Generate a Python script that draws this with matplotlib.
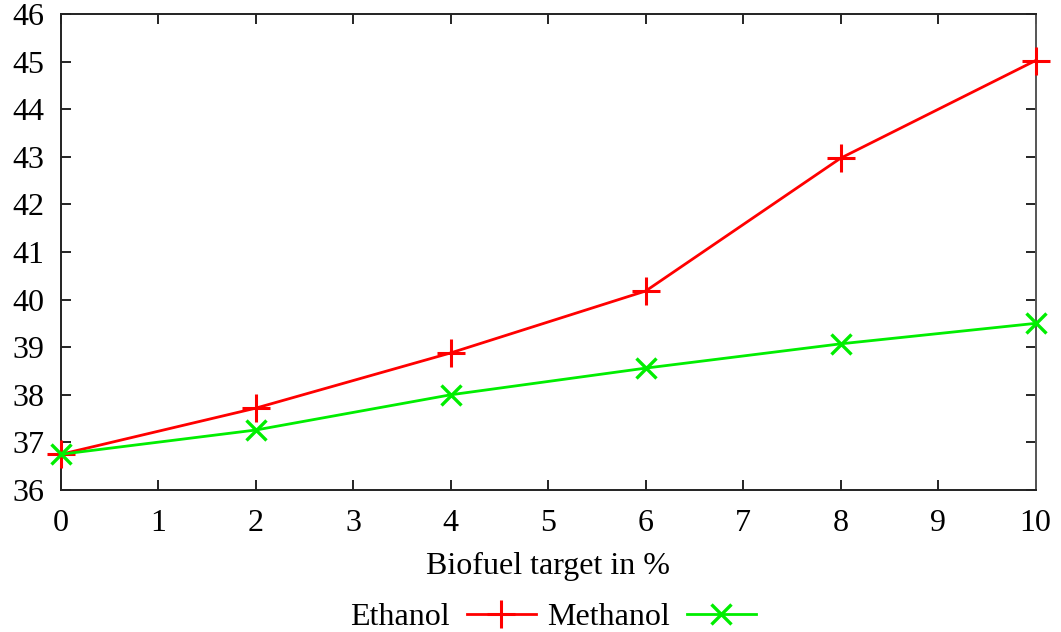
import matplotlib
matplotlib.use("Agg")
import matplotlib.pyplot as plt

plt.rcParams['font.family'] = ['Liberation Serif', 'DejaVu Serif']

targets = [0, 2, 4, 6, 8, 10]
ethanol = [36.75, 37.72, 38.88, 40.18, 42.97, 45.02]
methanol = [36.75, 37.26, 38.00, 38.56, 39.07, 39.50]
xticks = list(range(0, 11))
yticks = list(range(36, 47))

fig = plt.figure(figsize=(10.61, 6.32), dpi=100)
ax = fig.add_axes([0.0575, 0.2247, 0.9185, 0.7533])

ax.plot(targets, ethanol, color='#ff0000', lw=2, marker='+', ms=20, mew=2.2,
        label='Ethanol', clip_on=False, zorder=3)
ax.plot(targets, methanol, color='#00ee00', lw=2, marker='x', ms=15, mew=2.4,
        label='Methanol', clip_on=False, zorder=3)

ax.set_xlim(0, 10)
ax.set_ylim(36, 46)
ax.set_xticks(xticks)
ax.set_yticks(yticks)
ax.tick_params(direction='in', length=7, width=1.2, top=True, right=True,
               labelsize=23)
ax.tick_params(axis='x', pad=14)
ax.tick_params(axis='y', pad=12)
for s in ax.spines.values():
    s.set_linewidth(1.4)
    s.set_color('#222222')
ax.spines['right'].set_color('#555555')

ax.set_xlabel('Biofuel target in %', fontsize=23, labelpad=10)

leg = fig.legend(loc='lower center', bbox_to_anchor=(0.521, -0.045), ncol=2,
                 frameon=False, fontsize=23, markerfirst=False,
                 handlelength=2.15, columnspacing=0.35, handletextpad=0.55)

fig.savefig('out.png', dpi=100)
